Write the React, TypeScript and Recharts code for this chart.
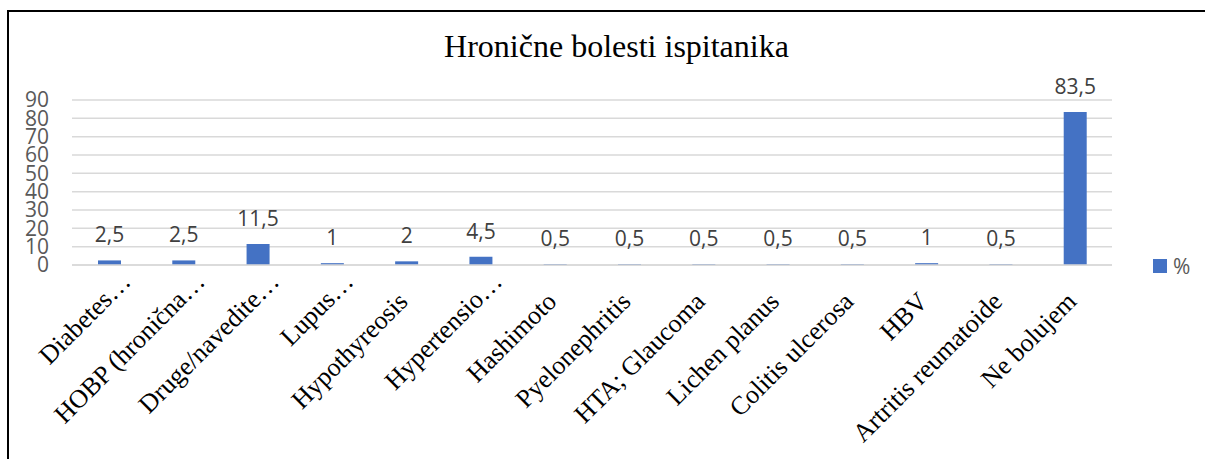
import React from 'react';
import { BarChart, Bar, XAxis, YAxis, CartesianGrid, LabelList, Legend } from 'recharts';

const categories = [
  'Diabetes…',
  'HOBP (hronična…',
  'Druge/navedite…',
  'Lupus…',
  'Hypothyreosis',
  'Hypertensio…',
  'Hashimoto',
  'Pyelonephritis',
  'HTA; Glaucoma',
  'Lichen planus',
  'Colitis ulcerosa',
  'HBV',
  'Artritis reumatoide',
  'Ne bolujem',
];
const percentValues = [2.5, 2.5, 11.5, 1, 2, 4.5, 0.5, 0.5, 0.5, 0.5, 0.5, 1, 0.5, 83.5];
const yTicks = [0, 10, 20, 30, 40, 50, 60, 70, 80, 90];
const seriesName = '%';
const title = 'Hronične bolesti ispitanika';

const data = categories.map((c, i) => ({ name: c, value: percentValues[i] }));

const BLUE = '#4472C4';
const SANS = '"Open Sans", "Noto Sans", sans-serif';
const SERIF = '"Liberation Serif", "Times New Roman", serif';

const XTick = (props: any) => {
  const { x, y, payload } = props;
  const label: string = payload.value;
  const trunc = label.endsWith('…');
  const ax = x + (trunc ? 23 : 3);
  const ay = y + (trunc ? 18 : 38);
  return (
    <text
      x={ax}
      y={ay}
      textAnchor="end"
      transform={`rotate(-45, ${ax}, ${ay})`}
      fontFamily={SERIF}
      fontSize={26}
      fill="#000000"
    >
      {label}
    </text>
  );
};

const ValueLabel = (props: any) => {
  const { x, y, width, value } = props;
  return (
    <text
      x={x + width / 2}
      y={y - 18}
      textAnchor="middle"
      fontFamily={SANS}
      fontSize={21}
      fill="#404040"
    >
      {String(value).replace('.', ',')}
    </text>
  );
};

const LegendContent = () => (
  <div style={{ display: 'flex', alignItems: 'center', fontFamily: SANS, fontSize: 21, lineHeight: '28px', color: '#595959' }}>
    <span style={{ display: 'inline-block', width: 14, height: 14, background: BLUE, marginRight: 6 }} />
    <span>{seriesName}</span>
  </div>
);

export default function App() {
  return (
    <div style={{ position: 'absolute', left: 0, top: 0, width: 1205, height: 459, overflow: 'hidden', background: '#fff' }}>
      <div
        style={{
          position: 'absolute',
          left: 7,
          top: 10,
          width: 1198,
          height: 449,
          borderLeft: '2px solid #000',
          borderTop: '2px solid #000',
          boxSizing: 'border-box',
        }}
      />
      <div
        style={{
          position: 'absolute',
          left: 0,
          top: 26,
          width: 1233,
          textAlign: 'center',
          fontFamily: SERIF,
          fontSize: 32,
          lineHeight: '40px',
          color: '#000',
        }}
      >
        {title}
      </div>
      <div style={{ position: 'absolute', left: 0, top: 0 }}>
        <BarChart
          width={1205}
          height={459}
          data={data}
          margin={{ top: 100, right: 93, bottom: 0, left: 0 }}
        >
          <CartesianGrid vertical={false} stroke="#d9d9d9" strokeWidth={1.5} />
          <XAxis
            dataKey="name"
            interval={0}
            height={194}
            tickLine={false}
            tickSize={0}
            tickMargin={0}
            axisLine={{ stroke: '#d9d9d9', strokeWidth: 1.5 }}
            tick={<XTick />}
          />
          <YAxis
            width={72}
            domain={[0, 90]}
            ticks={yTicks}
            interval={0}
            axisLine={false}
            tickLine={false}
            tickSize={0}
            tickMargin={23}
            tick={{ fill: '#595959', fontSize: 21, fontFamily: SANS }}
          />
          <Legend
            verticalAlign="bottom"
            content={<LegendContent />}
            wrapperStyle={{ position: 'absolute', left: 1153, top: 252, width: 60, height: 0, overflow: 'visible' }}
          />
          <Bar dataKey="value" name={seriesName} fill={BLUE} barSize={23} isAnimationActive={false}>
            <LabelList dataKey="value" content={<ValueLabel />} />
          </Bar>
        </BarChart>
      </div>
    </div>
  );
}
